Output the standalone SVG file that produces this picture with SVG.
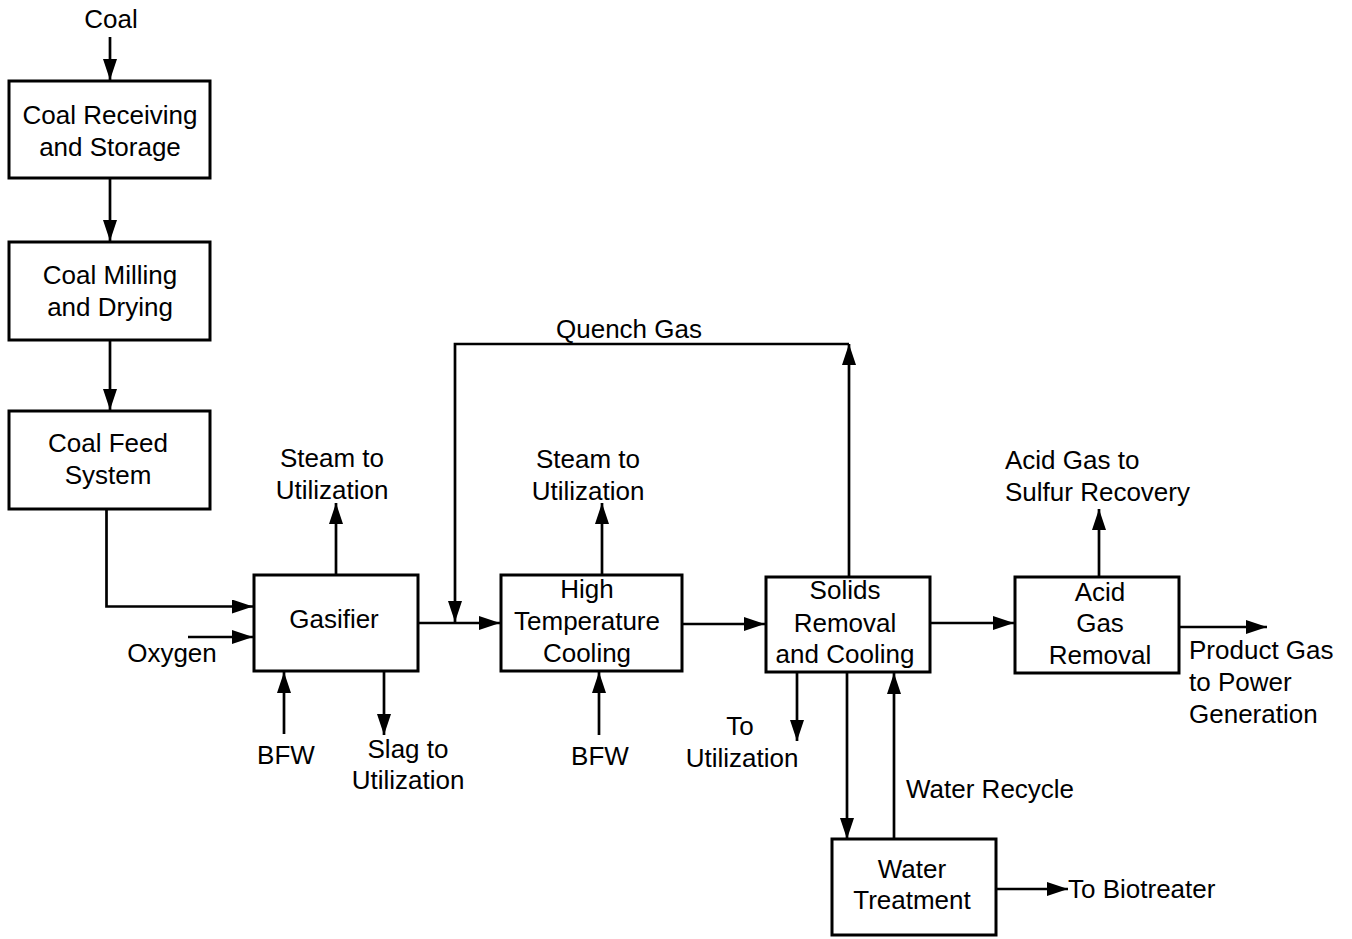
<svg xmlns="http://www.w3.org/2000/svg" width="1352" height="939" viewBox="0 0 1352 939">
<defs>
<style>
.box{fill:#fff;stroke:#000;stroke-width:3}
.ln{fill:none;stroke:#000;stroke-width:2.7}
.arr{marker-end:url(#ah)}
text{font-family:"Liberation Sans",Arial,sans-serif;font-size:26px;fill:#000}
.c{text-anchor:middle}
</style>
<marker id="ah" markerUnits="userSpaceOnUse" markerWidth="22" markerHeight="15" refX="21" refY="7" orient="auto"><path d="M0,0 L21,7 L0,14 z" fill="#000"/></marker>
</defs>
<rect width="1352" height="939" fill="#fff"/>
<g id="connectors">
<line class="ln arr" x1="110" y1="37" x2="110" y2="80"/>
<line class="ln arr" x1="110" y1="178" x2="110" y2="241"/>
<line class="ln arr" x1="110" y1="340" x2="110" y2="410"/>
<polyline class="ln arr" points="106.5,510 106.5,606.5 253,606.5"/>
<line class="ln arr" x1="188" y1="637" x2="253" y2="637"/>
<line class="ln arr" x1="336" y1="574" x2="336" y2="503"/>
<line class="ln arr" x1="284" y1="734" x2="284" y2="672"/>
<line class="ln arr" x1="384" y1="671" x2="384" y2="735"/>
<line class="ln arr" x1="418" y1="623" x2="500" y2="623"/>
<polyline class="ln arr" points="849,344 455,344 455,622"/>
<line class="ln arr" x1="849" y1="576" x2="849" y2="344"/>
<line class="ln arr" x1="602" y1="574" x2="602" y2="503"/>
<line class="ln arr" x1="599" y1="735" x2="599" y2="672"/>
<line class="ln arr" x1="682" y1="624" x2="765" y2="624"/>
<line class="ln arr" x1="797" y1="672" x2="797" y2="741"/>
<line class="ln arr" x1="847" y1="672" x2="847" y2="839"/>
<line class="ln arr" x1="894" y1="839" x2="894" y2="673"/>
<line class="ln arr" x1="930" y1="623" x2="1014" y2="623"/>
<line class="ln arr" x1="1099" y1="576" x2="1099" y2="509"/>
<line class="ln arr" x1="1179" y1="627" x2="1267" y2="627"/>
<line class="ln arr" x1="996" y1="889" x2="1068" y2="889"/>
</g>
<g id="node-coal-receiving">
<rect class="box" x="9" y="81" width="201" height="97"/>
<text class="c" x="110" y="124">Coal Receiving</text>
<text class="c" x="110" y="156">and Storage</text>
</g>
<g id="node-coal-milling">
<rect class="box" x="9" y="242" width="201" height="98"/>
<text class="c" x="110" y="284">Coal Milling</text>
<text class="c" x="110" y="316">and Drying</text>
</g>
<g id="node-coal-feed">
<rect class="box" x="9" y="411" width="201" height="98"/>
<text class="c" x="108" y="452">Coal Feed</text>
<text class="c" x="108" y="484">System</text>
</g>
<g id="node-gasifier">
<rect class="box" x="254" y="575" width="164" height="96"/>
<text class="c" x="334" y="628">Gasifier</text>
</g>
<g id="node-htc">
<rect class="box" x="501" y="575" width="181" height="96"/>
<text class="c" x="587" y="598">High</text>
<text class="c" x="587" y="630">Temperature</text>
<text class="c" x="587" y="662">Cooling</text>
</g>
<g id="node-solids">
<rect class="box" x="766" y="577" width="164" height="95"/>
<text class="c" x="845" y="599">Solids</text>
<text class="c" x="845" y="632">Removal</text>
<text class="c" x="845" y="663">and Cooling</text>
</g>
<g id="node-agr">
<rect class="box" x="1015" y="577" width="164" height="96"/>
<text class="c" x="1100" y="601">Acid</text>
<text class="c" x="1100" y="632">Gas</text>
<text class="c" x="1100" y="664">Removal</text>
</g>
<g id="node-water">
<rect class="box" x="832" y="839" width="164" height="96"/>
<text class="c" x="912" y="878">Water</text>
<text class="c" x="912" y="909">Treatment</text>
</g>
<g id="labels">
<text class="c" x="111" y="28">Coal</text>
<text class="c" x="172" y="662">Oxygen</text>
<text class="c" x="332" y="467">Steam to</text>
<text class="c" x="332" y="499">Utilization</text>
<text class="c" x="286" y="764">BFW</text>
<text class="c" x="408" y="758">Slag to</text>
<text class="c" x="408" y="789">Utilization</text>
<text class="c" x="629" y="338">Quench Gas</text>
<text class="c" x="588" y="468">Steam to</text>
<text class="c" x="588" y="500">Utilization</text>
<text class="c" x="600" y="765">BFW</text>
<text class="c" x="740" y="735">To</text>
<text class="c" x="742" y="767">Utilization</text>
<text x="906" y="798">Water Recycle</text>
<text x="1068" y="898">To Biotreater</text>
<text x="1005" y="469">Acid Gas to</text>
<text x="1005" y="501">Sulfur Recovery</text>
<text x="1189" y="659">Product Gas</text>
<text x="1189" y="691">to Power</text>
<text x="1189" y="723">Generation</text>
</g>
</svg>
